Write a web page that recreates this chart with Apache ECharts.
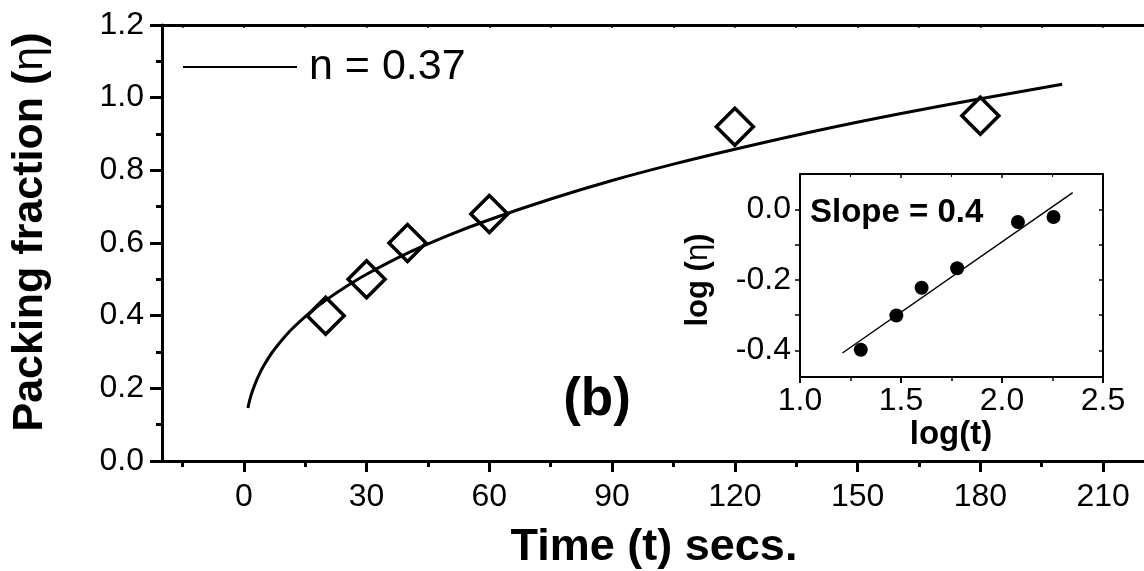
<!DOCTYPE html>
<html>
<head>
<meta charset="utf-8">
<script src="https://cdn.jsdelivr.net/npm/echarts@6/dist/echarts.min.js"></script>
<style>
  html, body { margin: 0; padding: 0; background: #fff; }
  #chart { width: 1144px; height: 571px; }
</style>
</head>
<body>
<div id="chart"></div>
<script>
// Measured packing fraction vs. time
const timeSecs = [20, 30, 40, 60, 120, 180];
const packing = [0.40, 0.50, 0.60, 0.68, 0.92, 0.95];

// Power-law fit curve (n = 0.37), sampled along the drawn line
const fitT = [1, 1.5, 2, 3, 4, 5, 7, 10, 12, 16, 20, 25, 30, 40, 50, 60, 75, 90, 105, 120, 140, 160, 180, 200];
const fitEta = [0.146, 0.170, 0.189, 0.219, 0.244, 0.265, 0.300, 0.342, 0.366, 0.407, 0.442, 0.480, 0.514, 0.572, 0.621, 0.664, 0.721, 0.772, 0.817, 0.858, 0.909, 0.955, 0.997, 1.037];

// Inset: log-log data and its straight-line fit
const logT = [1.301, 1.477, 1.602, 1.778, 2.079, 2.255];
const logEta = [-0.398, -0.301, -0.222, -0.167, -0.036, -0.022];
const lineLogT = [1.21, 2.35];
const lineLogEta = [-0.407, 0.047];

// Tick labels
const xTickLabels = [0, 30, 60, 90, 120, 150, 180, 210];
const xMinorTicks = [-15, 15, 45, 75, 105, 135, 165, 195];
const xAllTicks = [-15, 0, 15, 30, 45, 60, 75, 90, 105, 120, 135, 150, 165, 180, 195, 210];
const insetYLabels = [-0.4, -0.2, 0.0];
const insetYTicks = [-0.4, -0.3, -0.2, -0.1, 0.0];

const FONT = '"Liberation Sans", Arial, sans-serif';
const BLACK = '#000';

const chart = echarts.init(document.getElementById('chart'), null, { renderer: 'canvas' });

const mainGrid = { left: 162, top: 25, width: 982, height: 436 };
const insetGrid = { left: 800, top: 174, width: 303, height: 203 };

const fmt1 = v => Number(v).toFixed(1);

const option = {
  backgroundColor: '#fff',
  animation: false,
  grid: [
    Object.assign({ containLabel: false }, mainGrid),
    Object.assign({ containLabel: false }, mainGrid),
    Object.assign({ containLabel: false }, insetGrid)
  ],
  xAxis: [
    { // main bottom axis
      type: 'value', gridIndex: 0, position: 'bottom', min: -20, max: 220,
      axisLine: { show: true, onZero: false, lineStyle: { color: BLACK, width: 3 } },
      axisTick: { show: true, inside: false, length: 11, customValues: xTickLabels, lineStyle: { color: BLACK, width: 3 } },
      axisLabel: { show: true, margin: 20, customValues: xTickLabels, color: BLACK, fontSize: 32, fontFamily: FONT, hideOverlap: false },
      splitLine: { show: false }
    },
    { // main top mirror
      type: 'value', gridIndex: 0, position: 'top', min: -20, max: 220,
      axisLine: { show: true, onZero: false, lineStyle: { color: BLACK, width: 3 } },
      axisTick: { show: true, inside: true, length: 3, customValues: xAllTicks, lineStyle: { color: BLACK, width: 1.5 } },
      axisLabel: { show: false },
      splitLine: { show: false }
    },
    { // main bottom minor ticks
      type: 'value', gridIndex: 1, position: 'bottom', min: -20, max: 220,
      axisLine: { show: false, onZero: false },
      axisTick: { show: true, inside: false, length: 6, customValues: xMinorTicks, lineStyle: { color: BLACK, width: 3 } },
      axisLabel: { show: false },
      splitLine: { show: false }
    },
    { // inset bottom
      type: 'value', gridIndex: 2, position: 'bottom', min: 1.0, max: 2.5, interval: 0.5,
      axisLine: { show: true, onZero: false, lineStyle: { color: BLACK, width: 2 } },
      axisTick: { show: true, inside: false, length: 6, lineStyle: { color: BLACK, width: 2 } },
      minorTick: { show: true, splitNumber: 2, length: 4, lineStyle: { color: BLACK, width: 1.5 } },
      axisLabel: { show: true, margin: 8, color: BLACK, fontSize: 32, fontFamily: FONT, formatter: fmt1, hideOverlap: false, showMinLabel: true, showMaxLabel: true },
      splitLine: { show: false }
    },
    { // inset top mirror
      type: 'value', gridIndex: 2, position: 'top', min: 1.0, max: 2.5, interval: 0.5,
      axisLine: { show: true, onZero: false, lineStyle: { color: BLACK, width: 2 } },
      axisTick: { show: true, inside: true, length: 4, lineStyle: { color: BLACK, width: 1.5 } },
      minorTick: { show: true, splitNumber: 2, length: 3, lineStyle: { color: BLACK, width: 1 } },
      axisLabel: { show: false },
      splitLine: { show: false }
    }
  ],
  yAxis: [
    { // main left
      type: 'value', gridIndex: 0, position: 'left', min: 0, max: 1.2, interval: 0.2,
      axisLine: { show: true, onZero: false, lineStyle: { color: BLACK, width: 3 } },
      axisTick: { show: true, inside: false, length: 12, lineStyle: { color: BLACK, width: 3 } },
      minorTick: { show: true, splitNumber: 2, length: 6, lineStyle: { color: BLACK, width: 3 } },
      axisLabel: { show: true, margin: 18, color: BLACK, fontSize: 32, fontFamily: FONT, formatter: fmt1, hideOverlap: false, showMinLabel: true, showMaxLabel: true },
      splitLine: { show: false }
    },
    { // hidden y for minor-tick grid
      type: 'value', gridIndex: 1, min: 0, max: 1.2, show: false
    },
    { // inset left
      type: 'value', gridIndex: 2, position: 'left', min: -0.475, max: 0.1,
      axisLine: { show: true, onZero: false, lineStyle: { color: BLACK, width: 2 } },
      axisTick: { show: true, inside: false, length: 5, customValues: insetYTicks, lineStyle: { color: BLACK, width: 1.5 } },
      axisLabel: { show: true, margin: 9, customValues: insetYLabels, color: BLACK, fontSize: 32, fontFamily: FONT, formatter: fmt1, hideOverlap: false },
      splitLine: { show: false }
    },
    { // inset right mirror
      type: 'value', gridIndex: 2, position: 'right', min: -0.475, max: 0.1,
      axisLine: { show: true, onZero: false, lineStyle: { color: BLACK, width: 2 } },
      axisTick: { show: true, inside: true, length: 4, customValues: insetYTicks, lineStyle: { color: BLACK, width: 1.5 } },
      axisLabel: { show: false },
      splitLine: { show: false }
    }
  ],
  series: [
    {
      name: 'fit', type: 'line', xAxisIndex: 0, yAxisIndex: 0,
      data: fitT.map((t, i) => [t, fitEta[i]]),
      smooth: 0.3, showSymbol: false, symbol: 'none',
      lineStyle: { color: BLACK, width: 3 }, z: 3
    },
    {
      name: 'data', type: 'scatter', xAxisIndex: 0, yAxisIndex: 0,
      data: timeSecs.map((t, i) => [t, packing[i]]),
      symbol: 'diamond', symbolSize: 37,
      itemStyle: { color: 'rgba(0,0,0,0)', borderColor: BLACK, borderWidth: 3.5, opacity: 1 }, z: 4
    },
    {
      name: 'log fit', type: 'line', xAxisIndex: 3, yAxisIndex: 2,
      data: lineLogT.map((t, i) => [t, lineLogEta[i]]),
      showSymbol: false, symbol: 'none',
      lineStyle: { color: BLACK, width: 1.5 }, z: 3
    },
    {
      name: 'log data', type: 'scatter', xAxisIndex: 3, yAxisIndex: 2,
      data: logT.map((t, i) => [t, logEta[i]]),
      symbol: 'circle', symbolSize: 14,
      itemStyle: { color: BLACK, opacity: 1 }, z: 4
    }
  ],
  graphic: [
    { // legend key
      type: 'line', shape: { x1: 183, y1: 67, x2: 297, y2: 67 },
      style: { stroke: BLACK, lineWidth: 2 }
    },
    {
      type: 'text', x: 309, y: 67,
      style: { text: 'n = 0.37', fill: BLACK, font: '43px ' + FONT, textAlign: 'left', textVerticalAlign: 'middle' }
    },
    {
      type: 'text', x: 597, y: 400,
      style: { text: '(b)', fill: BLACK, font: 'bold 53px ' + FONT, textAlign: 'center', textVerticalAlign: 'middle' }
    },
    {
      type: 'text', x: 654, y: 548,
      style: { text: 'Time (t) secs.', fill: BLACK, font: 'bold 45px ' + FONT, textAlign: 'center', textVerticalAlign: 'middle' }
    },
    {
      type: 'text', x: 30, y: 232, rotation: Math.PI / 2,
      style: {
        text: '{b|Packing fraction (}{g|η}{b|)}',
        rich: {
          b: { fontFamily: FONT, fontWeight: 'bold', fontSize: 43, fill: BLACK, color: BLACK },
          g: { fontFamily: FONT, fontWeight: 'normal', fontSize: 43, fill: BLACK, color: BLACK }
        },
        textAlign: 'center', textVerticalAlign: 'middle'
      }
    },
    {
      type: 'text', x: 810, y: 213,
      style: { text: 'Slope = 0.4', fill: BLACK, font: 'bold 33px ' + FONT, textAlign: 'left', textVerticalAlign: 'middle' }
    },
    {
      type: 'text', x: 951, y: 435,
      style: { text: 'log(t)', fill: BLACK, font: 'bold 33px ' + FONT, textAlign: 'center', textVerticalAlign: 'middle' }
    },
    {
      type: 'text', x: 698, y: 280, rotation: Math.PI / 2,
      style: {
        text: '{b|log (}{g|η}{b|)}',
        rich: {
          b: { fontFamily: FONT, fontWeight: 'bold', fontSize: 31, fill: BLACK, color: BLACK },
          g: { fontFamily: FONT, fontWeight: 'normal', fontSize: 31, fill: BLACK, color: BLACK }
        },
        textAlign: 'center', textVerticalAlign: 'middle'
      }
    }
  ]
};

chart.setOption(option);
</script>
</body>
</html>
